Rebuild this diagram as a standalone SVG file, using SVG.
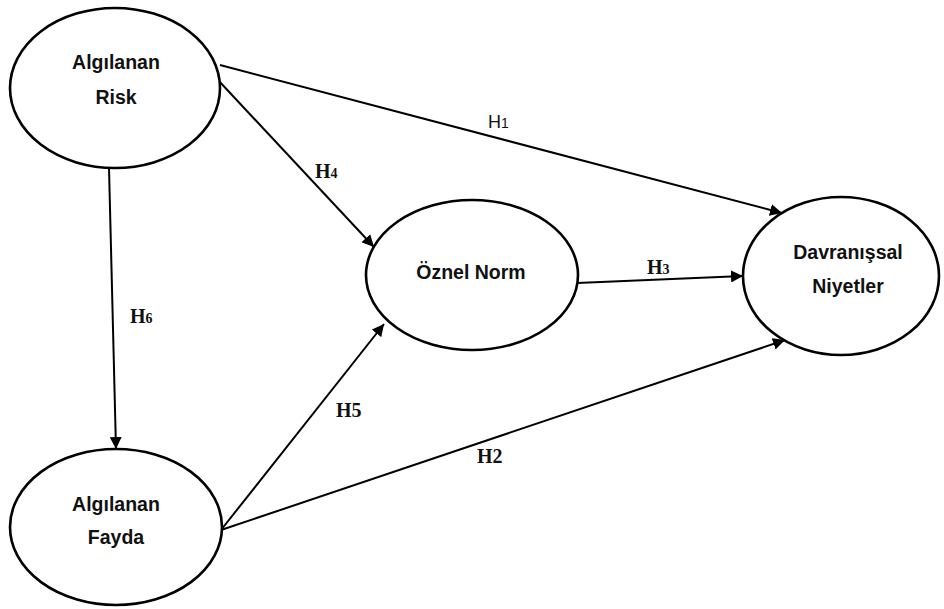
<svg xmlns="http://www.w3.org/2000/svg" width="944" height="609" viewBox="0 0 944 609">
<defs>
<style>
.node{fill:#fff;stroke:#000;stroke-width:2.6}
.nt{font-family:"Liberation Sans",Arial,sans-serif;font-weight:bold;font-size:19.5px;text-anchor:middle;fill:#111}
.edge{stroke:#000;stroke-width:2;fill:none;marker-end:url(#ah)}
.lbl{font-family:"Liberation Serif","Times New Roman",serif;font-weight:bold;font-size:20px;fill:#111}
.lbls{font-family:"Liberation Sans",Arial,sans-serif;font-size:18px;fill:#111}
.sub{font-size:14px}
</style>
<marker id="ah" viewBox="0 0 10 10" refX="10" refY="5" markerWidth="6" markerHeight="6" markerUnits="strokeWidth" orient="auto">
<path d="M0,0 L10,5 L0,10 z" fill="#000"/>
</marker>
</defs>
<g id="connectors">
<line class="edge" x1="220" y1="65" x2="782" y2="213"/>
<line class="edge" x1="218" y1="80" x2="374" y2="247"/>
<line class="edge" x1="109" y1="168" x2="116" y2="449"/>
<line class="edge" x1="221" y1="530" x2="384" y2="324"/>
<line class="edge" x1="221" y1="530" x2="785" y2="340"/>
<line class="edge" x1="577" y1="283" x2="743" y2="276"/>
</g>
<g id="labels">
<text class="lbls" x="488" y="128">H<tspan class="sub">1</tspan></text>
<text class="lbl" x="315" y="178">H<tspan class="sub">4</tspan></text>
<text class="lbl" x="130" y="323">H<tspan class="sub">6</tspan></text>
<text class="lbl" x="647" y="274">H<tspan class="sub">3</tspan></text>
<text class="lbl" x="336" y="417">H5</text>
<text class="lbl" x="477" y="463">H2</text>
</g>
<g id="risk">
<ellipse class="node" cx="115" cy="88" rx="105" ry="80"/>
<text class="nt" x="116" y="69">Algılanan</text>
<text class="nt" x="116" y="104">Risk</text>
</g>
<g id="fayda">
<ellipse class="node" cx="116" cy="527" rx="106" ry="78"/>
<text class="nt" x="116" y="511">Algılanan</text>
<text class="nt" x="116" y="544">Fayda</text>
</g>
<g id="oznel">
<ellipse class="node" cx="472" cy="275" rx="106" ry="75"/>
<text class="nt" x="471" y="279">Öznel Norm</text>
</g>
<g id="davranis">
<ellipse class="node" cx="841" cy="276" rx="98" ry="79"/>
<text class="nt" x="848" y="259">Davranışsal</text>
<text class="nt" x="848" y="293">Niyetler</text>
</g>
</svg>
